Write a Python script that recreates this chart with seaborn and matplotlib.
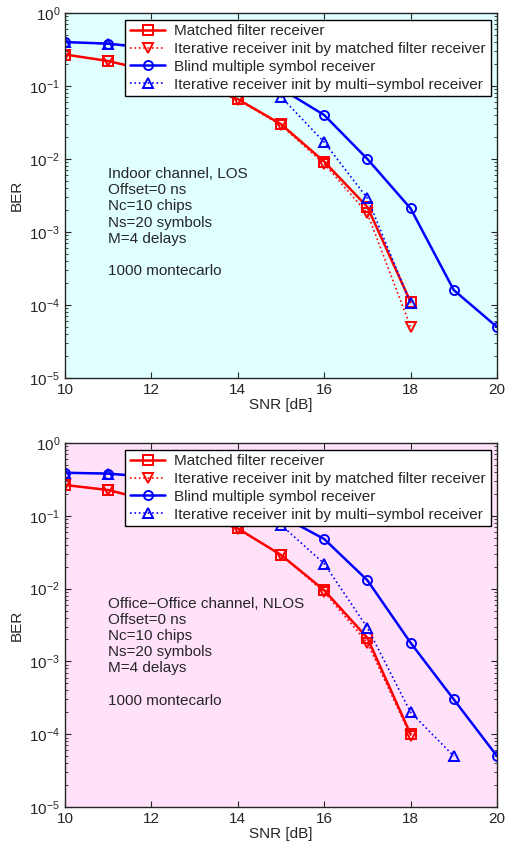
import numpy as np
import pandas as pd
import matplotlib
matplotlib.use("Agg")
import matplotlib.pyplot as plt
import seaborn as sns
from matplotlib.ticker import LogLocator, NullFormatter

# Dane
snr = [10, 11, 12, 13, 14, 15, 16, 17, 18, 19, 20]

# Panel górny: Indoor, LOS
los_mf = [0.27, 0.22, 0.16, 0.11, 0.066, 0.030, 0.0092, 0.0022, 1.1e-4]
los_iter_mf = [0.27, 0.22, 0.16, 0.11, 0.065, 0.029, 0.0086, 0.0018, 5.0e-5]
los_blind = [0.40, 0.38, 0.33, 0.26, 0.18, 0.092, 0.040, 0.0100, 0.0021, 1.6e-4, 5.0e-5]
los_iter_ms = [0.40, 0.38, 0.32, 0.24, 0.14, 0.071, 0.017, 0.0029, 1.05e-4]

# Panel dolny: Office-Office, NLOS
nlos_mf = [0.265, 0.226, 0.16, 0.11, 0.067, 0.029, 0.0095, 0.0021, 1.0e-4]
nlos_iter_mf = [0.265, 0.226, 0.16, 0.11, 0.066, 0.029, 0.0090, 0.0018, 9.5e-5]
nlos_blind = [0.39, 0.38, 0.34, 0.27, 0.18, 0.10, 0.048, 0.013, 0.0018, 3.0e-4, 5.0e-5]
nlos_iter_ms = [0.39, 0.38, 0.33, 0.25, 0.15, 0.075, 0.022, 0.0029, 2.0e-4, 5.0e-5]

labels = ["Matched filter receiver",
          "Iterative receiver init by matched filter receiver",
          "Blind multiple symbol receiver",
          "Iterative receiver init by multi\u2212symbol receiver"]

notes_los = "Indoor channel, LOS\nOffset=0 ns\nNc=10 chips\nNs=20 symbols\nM=4 delays\n\n1000 montecarlo"
notes_nlos = "Office\u2212Office channel, NLOS\nOffset=0 ns\nNc=10 chips\nNs=20 symbols\nM=4 delays\n\n1000 montecarlo"

sns.set_style("ticks")
plt.rcParams['font.family'] = ['Liberation Sans', 'DejaVu Sans']
plt.rcParams['mathtext.fontset'] = 'custom'
plt.rcParams['mathtext.rm'] = 'Liberation Sans'

fig = plt.figure(figsize=(5.07, 8.48), dpi=100)
ax1 = fig.add_axes([65/507, 1-378/848, 432/507, 365/848])
ax2 = fig.add_axes([65/507, 1-807/848, 432/507, 364/848])

styles = [
    dict(color="red", marker="s", linestyle="-", linewidth=1.8),
    dict(color="red", marker="v", linestyle=":", linewidth=1.2),
    dict(color="blue", marker="o", linestyle="-", linewidth=1.8),
    dict(color="blue", marker="^", linestyle=":", linewidth=1.2),
]


def rysuj(ax, serie, notes, bg):
    ax.set_facecolor(bg)
    for vals, lab, st in zip(serie, labels, styles):
        x = snr[:len(vals)]
        sns.lineplot(x=x, y=vals, ax=ax, label=lab, color=st["color"],
                     marker=st["marker"], linestyle=st["linestyle"],
                     linewidth=st["linewidth"], markersize=6.5,
                     markerfacecolor="none", markeredgecolor=st["color"],
                     markeredgewidth=1.4)
    ax.set_yscale("log")
    ax.set_xlim(10, 20)
    ax.set_ylim(1e-5, 1)
    ax.set_xticks([10, 12, 14, 16, 18, 20])
    ax.yaxis.set_major_locator(LogLocator(base=10, numticks=10))
    ax.yaxis.set_minor_locator(LogLocator(base=10, subs=np.arange(2, 10), numticks=20))
    ax.yaxis.set_minor_formatter(NullFormatter())
    ax.tick_params(which="both", direction="in", top=True, right=True, labelsize=11)
    ax.tick_params(which="major", length=4)
    ax.tick_params(which="minor", length=2)
    ax.set_xlabel("SNR [dB]", fontsize=11, labelpad=1)
    ax.set_ylabel("BER", fontsize=11, labelpad=4)
    for s in ax.spines.values():
        s.set_linewidth(1.0)
    ax.text(0.1, 0.578, notes, transform=ax.transAxes, fontsize=11,
            va="top", ha="left", linespacing=1.2)
    leg = ax.legend(loc="upper right", bbox_to_anchor=(0.985, 0.982), fontsize=11,
                    frameon=True, fancybox=False, edgecolor="black",
                    borderpad=0.3, labelspacing=0.25, handlelength=2.3,
                    handletextpad=0.6, borderaxespad=0)
    leg.get_frame().set_linewidth(1.0)
    leg.get_frame().set_alpha(1)


rysuj(ax1, [los_mf, los_iter_mf, los_blind, los_iter_ms], notes_los, "#e0ffff")
rysuj(ax2, [nlos_mf, nlos_iter_mf, nlos_blind, nlos_iter_ms], notes_nlos, "#ffe2fa")

fig.savefig("out.png", dpi=100)
